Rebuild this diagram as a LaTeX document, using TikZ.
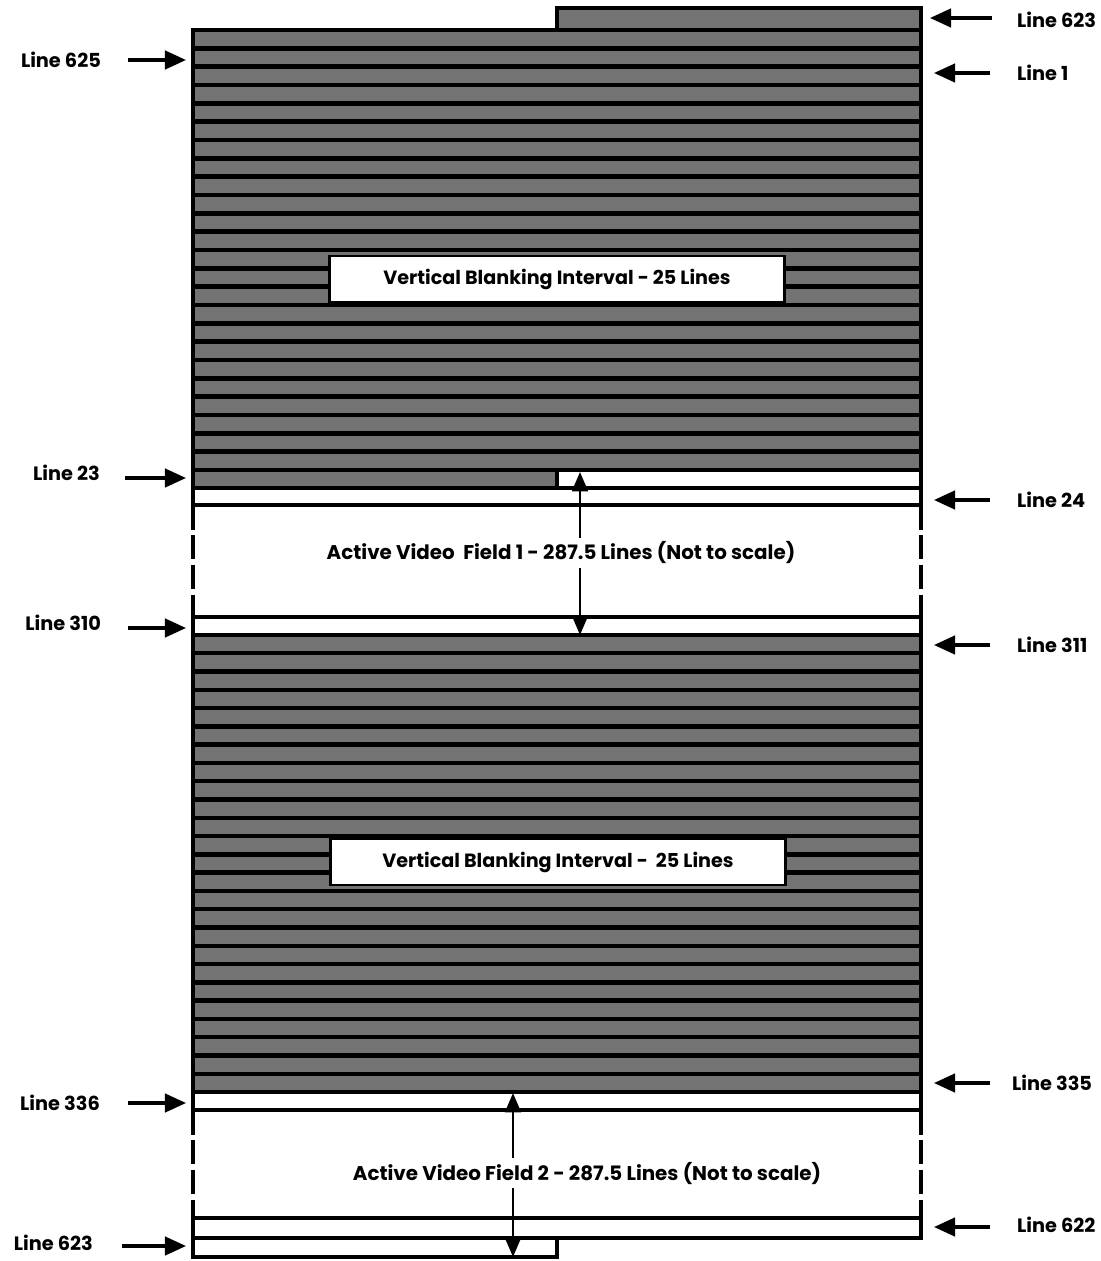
\documentclass[tikz,border=0pt]{standalone}
\usepackage{fontspec}
\setmainfont{Poppins}
\usetikzlibrary{arrows.meta}
\tikzset{
  band/.style={fill=black!55, draw=black, line width=2.5pt},
  blank/.style={fill=white, draw=black, line width=2.2pt},
  side/.style={line width=2pt, dash pattern=on 14pt off 3pt},
  lbl/.style={font=\bfseries\fontsize{11}{13}\selectfont, inner sep=1pt},
  tag/.style={font=\bfseries\fontsize{10.9}{13}\selectfont, fill=white, draw=black, line width=1.2pt, minimum width=9.1cm, minimum height=0.93cm},
  note/.style={font=\bfseries\fontsize{11.3}{13}\selectfont, fill=white, inner sep=2pt},
  ptr/.style={-{Triangle[length=12pt,width=10.5pt]}, line width=1.8pt},
  dptr/.style={{Triangle[length=11pt,width=9pt]}-{Triangle[length=11pt,width=9pt]}, line width=1.4pt}
}
\begin{document}
\begin{tikzpicture}[x=0.02cm,y=-0.02cm]
\useasboundingbox (0,0) rectangle (1101,1261);
\draw[band] (557,8) rectangle (921,30);
\foreach \i in {0,...,23}
  \draw[band] (193,{30+18.333*\i}) rectangle (921,{48.333+18.333*\i});
\draw[band] (193,470) rectangle (557,488);
\draw[blank] (557,470) rectangle (921,488);
\draw[blank] (193,488) rectangle (921,505);
\draw[side] (193,505) -- (193,617);
\draw[side] (921,505) -- (921,617);
\draw[blank] (193,617) rectangle (921,635);
\foreach \i in {0,...,24}
  \draw[band] (193,{635+18.28*\i}) rectangle (921,{653.28+18.28*\i});
\draw[blank] (193,1092) rectangle (921,1110);
\draw[side] (193,1110) -- (193,1218);
\draw[side] (921,1110) -- (921,1218);
\draw[blank] (193,1218) rectangle (921,1238);
\draw[blank] (193,1238) rectangle (557,1257);

\node[tag] (vbi1) at (557,279) {Vertical Blanking Interval - 25 Lines};
\node[tag] (vbi2) at (558,862) {Vertical Blanking Interval -\ \ 25 Lines};

\coordinate (f1top) at (580,472);
\coordinate (f1bot) at (580,635);
\coordinate (f2top) at (513,1093);
\coordinate (f2bot) at (513,1257);
\draw[dptr] (f1top) -- (f1bot);
\draw[dptr] (f2top) -- (f2bot);
\node[note] (act1) at (561,553) {Active Video\ \ Field 1 - 287.5 Lines (Not to scale)};
\node[note] (act2) at (587,1173) {Active Video Field 2 - 287.5 Lines (Not to scale)};

\node[lbl, anchor=east] (l625) at (103,60) {Line 625};
\node[lbl, anchor=east] (l23) at (102,473) {Line 23};
\node[lbl, anchor=east] (l310) at (103,623) {Line 310};
\node[lbl, anchor=east] (l336) at (102,1103) {Line 336};
\node[lbl, anchor=east] (l623b) at (95,1243) {Line 623};
\node[lbl, anchor=west] (r623) at (1015,20) {Line 623};
\node[lbl, anchor=west] (r1) at (1015,73) {Line 1};
\node[lbl, anchor=west] (r24) at (1015,500) {Line 24};
\node[lbl, anchor=west] (r311) at (1015,645) {Line 311};
\node[lbl, anchor=west] (r335) at (1010,1083) {Line 335};
\node[lbl, anchor=west] (r622) at (1015,1225) {Line 622};

\coordinate (p625) at (186,60);
\coordinate (p23) at (186,478);
\coordinate (p310) at (186,628);
\coordinate (p336) at (186,1103);
\coordinate (p623b) at (186,1246);
\coordinate (q623) at (930,18);
\coordinate (q1) at (934,73);
\coordinate (q24) at (934,500);
\coordinate (q311) at (934,645);
\coordinate (q335) at (934,1083);
\coordinate (q622) at (934,1227);

\draw[ptr] (l625.east |- p625) ++(25,0) -- (p625);
\draw[ptr] (l23.east |- p23) ++(23,0) -- (p23);
\draw[ptr] (l310.east |- p310) ++(25,0) -- (p310);
\draw[ptr] (l336.east |- p336) ++(26,0) -- (p336);
\draw[ptr] (l623b.east |- p623b) ++(27,0) -- (p623b);
\draw[ptr] (r623.west |- q623) ++(-23,0) -- (q623);
\draw[ptr] (r1.west |- q1) ++(-25,0) -- (q1);
\draw[ptr] (r24.west |- q24) ++(-25,0) -- (q24);
\draw[ptr] (r311.west |- q311) ++(-25,0) -- (q311);
\draw[ptr] (r335.west |- q335) ++(-20,0) -- (q335);
\draw[ptr] (r622.west |- q622) ++(-25,0) -- (q622);
\end{tikzpicture}
\end{document}
